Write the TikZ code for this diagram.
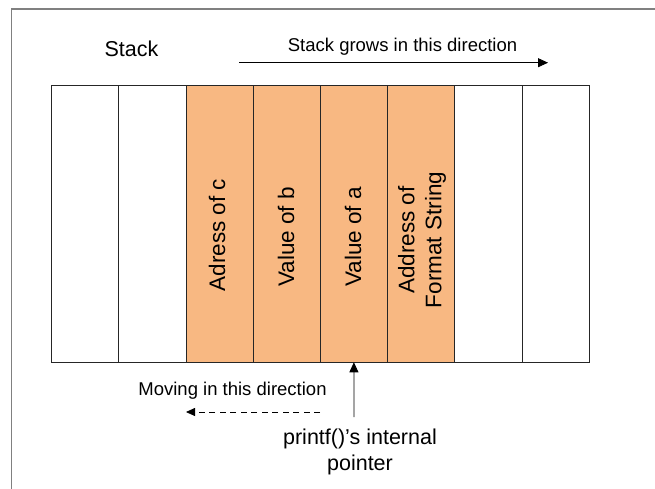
\documentclass[tikz,border=0pt]{standalone}
\usepackage{fontspec}
\setmainfont{Liberation Sans}
\usetikzlibrary{positioning,arrows.meta}
\definecolor{slotorange}{RGB}{248,184,130}
\definecolor{framegray}{RGB}{128,128,128}
\begin{document}
\begin{tikzpicture}[x=1pt,y=1pt,auto]
    \tikzstyle{every node}=[inner sep=0,outer sep=0]
    \tikzstyle{note}=[draw=none,font=\fontsize{18.5}{22}\selectfont]
    \tikzstyle{big}=[draw=none,font=\fontsize{21.5}{26}\selectfont,align=center]
    \tikzstyle{slot} = [draw=black!85,line width=0.8,minimum width=67.2,minimum height=276.6,fill=white]
    \tikzstyle{slot0} = [slot]
    \tikzstyle{slot1} = [slot,fill=slotorange]
    \tikzstyle{inslot} = [big,font=\fontsize{22.5}{27}\selectfont,rotate=90]
    \useasboundingbox (0,0) rectangle (655,-489);
    {
        % frame
        \draw[framegray,line width=1.5] (655,-9) -- (11.5,-9) -- (11.5,-489);

        % stack slots
        \foreach \number in {0,1,6,7} {
            \node[slot0] (c\number) at ({51.5+(\number+0.5)*67.2},-224) {};
        }
        \foreach \number in {2,3,4,5} {
            \node[slot1] (c\number) at ({51.5+(\number+0.5)*67.2},-224) {};
        }
        \node[inslot] (adrc) at (217,-235) {Adress of c};
        \node[inslot] (valb) at (286,-237) {Value of b};
        \node[inslot] (vala) at (353,-237) {Value of a};
        \node[inslot] (fmt) at (422,-240) {Address of\\Format String};

        % labels
        \node[big,anchor=base] (stack) at (131.5,-57) {Stack};
        \node[note,anchor=base] (grows) at (402.5,-52) {Stack grows in this direction};
        \coordinate (gs) at (239,-62.7);
        \coordinate (ge) at (548,-62.7);
        \draw[-{Triangle[length=10,width=9]},line width=0.8] (gs) -- (ge);

        \node[note,anchor=base] (moving) at (232.5,-395) {Moving in this direction};
        \coordinate (ms) at (320,-412);
        \coordinate (me) at (186,-412);
        \draw[-{Triangle[length=9,width=8]},line width=0.8,dash pattern=on 6 off 4.5] (ms) -- (me);

        \coordinate (pt) at (353.9,-417);
        \draw[-{Triangle[length=10,width=9]},line width=0.8] (pt) -- (c4.south);
        \node[big,anchor=north] (ptr) at (360,-429) {printf()’s internal\\pointer};
    }
\end{tikzpicture}
\end{document}
